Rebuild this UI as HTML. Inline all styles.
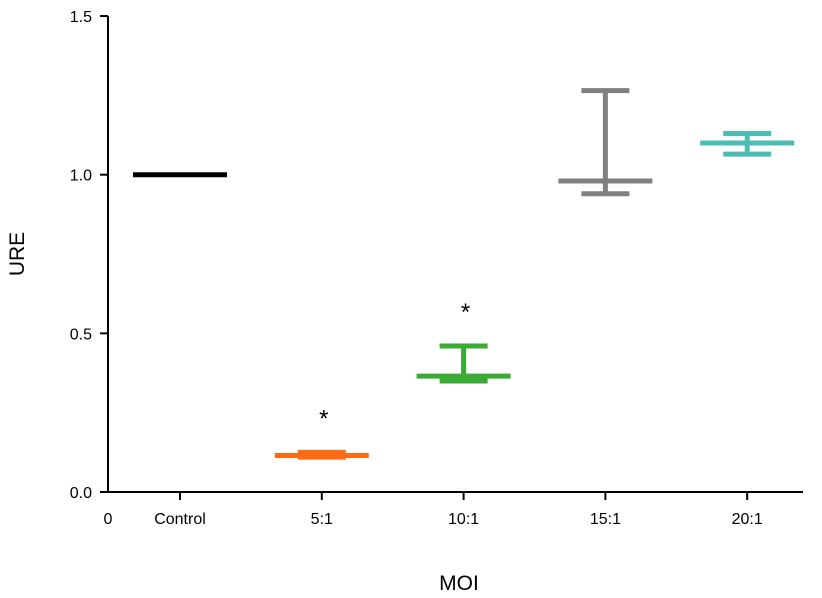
<!DOCTYPE html>
<html><head><meta charset="utf-8"><style>
body{margin:0;background:#fff}
svg{display:block;font-family:"Liberation Sans",sans-serif}
</style></head><body>
<svg id="chart" width="822" height="598"></svg>
<script>
const categories=["Control","5:1","10:1","15:1","20:1"];
const means=[1.0,0.115,0.365,0.98,1.1];
const uppers=[1.0,0.125,0.46,1.265,1.13];
const lowers=[1.0,0.11,0.35,0.94,1.065];
const colors=["#000000","#ff6a13","#3aaa35","#808083","#4dbdb3"];
const sig=[false,true,true,false,false];
const yTicks=[0,0.5,1.0,1.5];
const yTickLabels=["0.0","0.5","1.0","1.5"];

const svg=document.getElementById('chart');
const NS="http://www.w3.org/2000/svg";
const y=v=>492-v*317.3;
const x=i=>180+i*141.8;
function mk(t,a,p){const e=document.createElementNS(NS,t);for(const k in a)e.setAttribute(k,a[k]);(p||svg).appendChild(e);return e;}

const ax=mk('g',{});


mk('line',{x1:108,y1:16,x2:108,y2:493,stroke:'#000','stroke-width':2},ax);
mk('line',{x1:107,y1:492,x2:803,y2:492,stroke:'#000','stroke-width':2},ax);
yTicks.forEach((v,i)=>{
  mk('line',{x1:100,y1:y(v),x2:108,y2:y(v),stroke:'#000','stroke-width':2},ax);
  const t=mk('text',{x:92,y:y(v)+6,'text-anchor':'end','font-size':16},ax);
  t.textContent=yTickLabels[i];
  
  
});
const z=mk('text',{x:108,y:524,'text-anchor':'middle','font-size':16},ax);z.textContent="0";
categories.forEach((c,i)=>{
  mk('line',{x1:x(i),y1:492,x2:x(i),y2:500,stroke:'#000','stroke-width':2},ax);
  const t=mk('text',{x:x(i),y:524,'text-anchor':'middle','font-size':16},ax);
  t.textContent=c;
  
  
});
const xt=mk('text',{x:459,y:590,'text-anchor':'middle','font-size':21},ax);xt.textContent="MOI";


const yt=mk('text',{x:24,y:254,'text-anchor':'middle','font-size':21,transform:'rotate(-90 24 254)'},ax);yt.textContent="URE";



categories.forEach((c,i)=>{
  const g=mk('g',{stroke:colors[i],'stroke-width':5});
  
  
  const cx=x(i);
  if(uppers[i]!==lowers[i]){
    mk('line',{x1:cx,y1:y(uppers[i]),x2:cx,y2:y(lowers[i])},g);
    mk('line',{x1:cx-24,y1:y(uppers[i]),x2:cx+24,y2:y(uppers[i])},g);
    mk('line',{x1:cx-24,y1:y(lowers[i]),x2:cx+24,y2:y(lowers[i])},g);
  }
  mk('line',{x1:cx-47,y1:y(means[i]),x2:cx+47,y2:y(means[i])},g);
  if(sig[i]){
    const s=mk('text',{x:cx+2,y:y(uppers[i])-26,'text-anchor':'middle','font-size':24,stroke:'none',fill:'#000'},g);
    s.textContent="*";
    
    
  }
});
</script>
</body></html>
